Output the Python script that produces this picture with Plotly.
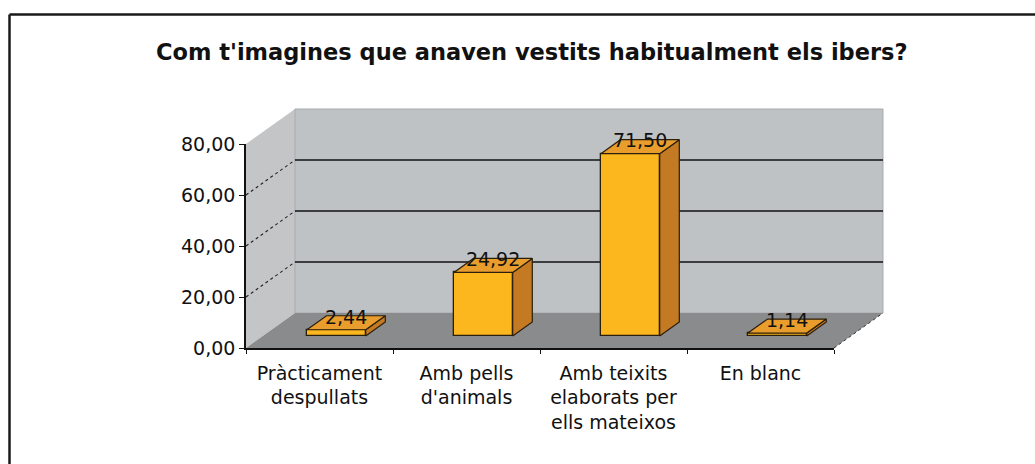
import plotly.graph_objects as go

# ---- data ----
categories = ["Pràcticament<br>despullats", "Amb pells<br>d'animals",
              "Amb teixits<br>elaborats per<br>ells mateixos", "En blanc"]
values = [2.44, 24.92, 71.50, 1.14]
value_labels = [f"{v:.2f}".replace(".", ",") for v in values]
title_text = "Com t'imagines que anaven vestits habitualment els ibers?"
y_ticks = [0, 20, 40, 60, 80]

# ---- layout constants (pixels) ----
W, H_FIG = 1035, 464
AX_L, AX_R = 246, 834          # front plane x extent
AX_B, AX_T = 348, 144          # front plane y extent (0 and 80)
YMAX = 80
n = len(categories)
px_cat = (AX_R - AX_L) / n
px_val = (AX_B - AX_T) / YMAX

# depth of the 3D box (in data units of the background axis system)
D = 49 / px_cat
HD = 35 / px_val
f0, f1 = 0.343, 0.743          # bar front / back depth fractions
bar_w = 0.4
bx, b0 = f0 * D, f0 * HD
dD, dH = (f1 - f0) * D, (f1 - f0) * HD

x_rng = [-0.5 - AX_L / px_cat, -0.5 + (W - AX_L) / px_cat]
y_rng = [-(H_FIG - AX_B) / px_val, AX_B / px_val]

FONT = "DejaVu Sans, Verdana, sans-serif"

fig = go.Figure()

# front faces: real bars
fig.add_trace(go.Bar(
    x=[i + bx for i in range(n)], y=values, base=[b0] * n, width=bar_w,
    marker=dict(color="#FDB71E", line=dict(color="#2a1e0c", width=1.3)),
    hovertext=value_labels, hoverinfo="text", showlegend=False,
    xaxis="x", yaxis="y"))

# side faces and top faces computed from values
sx, sy, tx, ty = [], [], [], []
for i, v in enumerate(values):
    xl = i + bx - bar_w / 2
    xr = i + bx + bar_w / 2
    sx += [xr, xr + dD, xr + dD, xr, xr, None]
    sy += [b0, b0 + dH, b0 + dH + v, b0 + v, b0, None]
    tx += [xl, xr, xr + dD, xl + dD, xl, None]
    ty += [b0 + v, b0 + v, b0 + v + dH, b0 + v + dH, b0 + v, None]
fig.add_trace(go.Scatter(x=sx, y=sy, fill="toself", fillcolor="#C47A22",
                         mode="lines", line=dict(color="#2a1e0c", width=1.2),
                         hoverinfo="skip", showlegend=False))
fig.add_trace(go.Scatter(x=tx, y=ty, fill="toself", fillcolor="#E99D2C",
                         mode="lines", line=dict(color="#2a1e0c", width=1.2),
                         hoverinfo="skip", showlegend=False))

# data labels
fig.add_trace(go.Scatter(
    x=[i + bx + dD / 2 for i in range(n)],
    y=[b0 + v + dH - 3 / px_val for v in values],
    text=value_labels, mode="text", textposition="middle center",
    textfont=dict(family=FONT, size=19, color="#111"),
    cliponaxis=False, hoverinfo="skip", showlegend=False))

# front-plane axes (visible) need a trace
fig.add_trace(go.Scatter(x=categories, y=values, mode="markers",
                         marker=dict(opacity=0), hoverinfo="skip",
                         showlegend=False, xaxis="x2", yaxis="y2"))

# ---- walls as shapes ----
L, R = -0.5, n - 0.5
shapes = []
def path(pts):
    return "M " + " L ".join(f"{x},{y}" for x, y in pts) + " Z"

# side wall
shapes.append(dict(type="path", xref="x", yref="y", layer="below",
                   path=path([(L, 0), (L + D, HD), (L + D, YMAX + HD), (L, YMAX)]),
                   fillcolor="#C4C5C7", line=dict(width=0)))
# back wall
shapes.append(dict(type="path", xref="x", yref="y", layer="below",
                   path=path([(L + D, HD), (R + D, HD), (R + D, YMAX + HD), (L + D, YMAX + HD)]),
                   fillcolor="#BFC2C5", line=dict(color="#A8ABAE", width=1)))
# floor
shapes.append(dict(type="path", xref="x", yref="y", layer="below",
                   path=path([(L, 0), (R, 0), (R + D, HD), (L + D, HD)]),
                   fillcolor="#8A8B8D", line=dict(width=0)))
# floor right edge
shapes.append(dict(type="line", xref="x", yref="y", layer="below",
                   x0=R, y0=0, x1=R + D, y1=HD,
                   line=dict(color="#333", width=1, dash="dot")))
# gridlines
for t in y_ticks[1:-1]:
    shapes.append(dict(type="line", xref="x", yref="y", layer="below",
                       x0=L + D, y0=t + HD, x1=R + D, y1=t + HD,
                       line=dict(color="#111", width=1.6)))
    shapes.append(dict(type="line", xref="x", yref="y", layer="below",
                       x0=L, y0=t, x1=L + D, y1=t + HD,
                       line=dict(color="#222", width=1.1, dash="dot")))

# outer frame (top and left edges visible)
fy = 1 - 14.5 / H_FIG
fx = 9.5 / W
shapes.append(dict(type="line", xref="paper", yref="paper",
                   x0=fx, y0=fy, x1=1.01, y1=fy, line=dict(color="#1a1a1a", width=2.5)))
shapes.append(dict(type="line", xref="paper", yref="paper",
                   x0=fx, y0=fy, x1=fx, y1=-0.01, line=dict(color="#1a1a1a", width=2.5)))

fig.update_layout(
    width=W, height=H_FIG,
    margin=dict(l=0, r=0, t=0, b=0, pad=0, autoexpand=False),
    paper_bgcolor="white", plot_bgcolor="rgba(0,0,0,0)",
    separators=",.",
    shapes=shapes,
    bargap=0,
    font=dict(family=FONT, size=19, color="#111"),
    xaxis=dict(domain=[0, 1], range=x_rng, visible=False, fixedrange=True,
               automargin=False),
    yaxis=dict(domain=[0, 1], range=y_rng, visible=False, fixedrange=True,
               automargin=False),
    xaxis2=dict(domain=[AX_L / W, AX_R / W], anchor="y2", type="category",
                categoryorder="array", categoryarray=categories,
                range=[-0.5, n - 0.5], showline=True, linecolor="#111",
                linewidth=1.6, ticks="outside", tickson="boundaries",
                ticklen=4, tickcolor="#111", showgrid=False,
                ticklabelstandoff=7,
                tickfont=dict(family=FONT, size=19, color="#111"),
                fixedrange=True, automargin=False),
    yaxis2=dict(domain=[1 - AX_B / H_FIG, 1 - AX_T / H_FIG], anchor="x2",
                range=[0, YMAX], tickvals=y_ticks, tickformat=".2f",
                showline=True, linecolor="#111", linewidth=1.6,
                ticks="outside", ticklen=5, tickcolor="#111", showgrid=False,
                zeroline=False,
                tickfont=dict(family=FONT, size=19, color="#111"),
                fixedrange=True, automargin=False),
    annotations=[dict(text=f"<b>{title_text}</b>", xref="paper", yref="paper",
                      x=532 / W, y=1 - 52 / H_FIG, xanchor="center",
                      yanchor="middle", showarrow=False,
                      font=dict(family=FONT, size=22.5, color="#111"))],
)

post = ("var gd=document.getElementById('{plot_id}');"
        "gd.style.position='fixed';gd.style.top='0px';gd.style.left='0px';"
        "document.body.style.margin='0';document.body.style.overflow='hidden';"
        "document.documentElement.style.overflow='hidden';")

fig.write_html("out.html", config={"displayModeBar": False}, post_script=post)
